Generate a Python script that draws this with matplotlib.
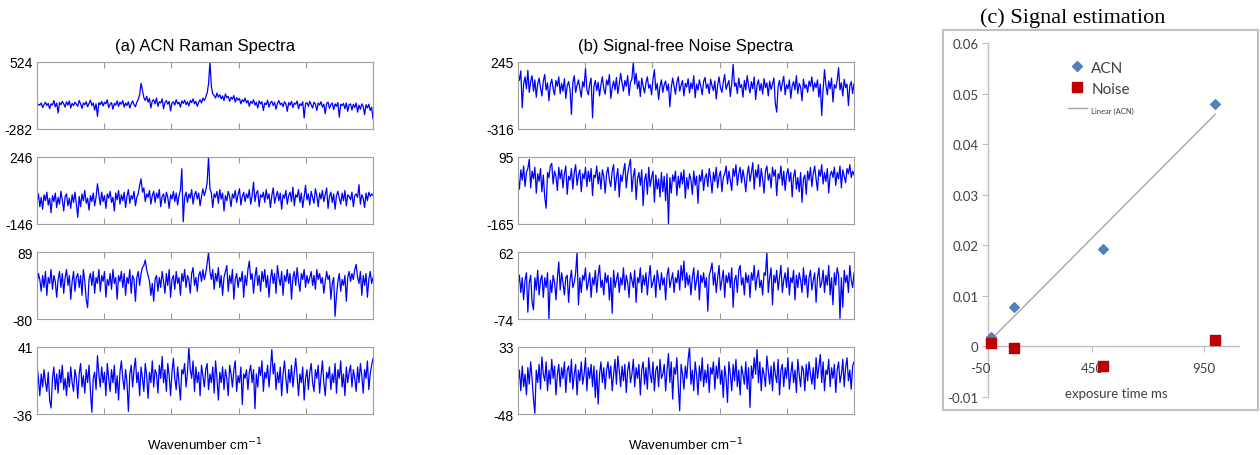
import numpy as np
import matplotlib
matplotlib.use('Agg')
import matplotlib.pyplot as plt
from matplotlib.patches import Rectangle
from matplotlib.lines import Line2D

# ---- (a) ACN Raman spectra ----
a1 = [-10, 15, 5, 30, -25, 10, 40, 0, 25, -40, 20, 5, 60, -15, 30,
      -90, 35, 10, 50, 20, -20, 45, 5, 55, -30, 25, 0, 40, 15, -10,
      60, 20, -35, 30, 10, 45, -15, 25, 65, 0, 30, -55, 20, -130, 35,
      10, 50, -5, 40, 20, 70, -25, 15, 35, -45, 25, 5, 55, -10, 40,
      15, 60, -20, 30, 0, 45, -30, 20, 55, 10, -15, 40, 75, 130, 268,
      180, 95, 60, 110, 40, 85, -30, 55, 70, 20, 90, -10, 45, 30, 80,
      -40, 35, 60, 15, 50, -65, 30, 45, 5, 70, 20, 40, -20, 55, 25,
      65, 10, 45, -5, 60, 35, 80, 20, 50, -10, 40, 70, 30, 90, 60,
      100, 150, 260, 524, 230, 140, 120, 90, 150, 100, 130, 80, 115, 60, 140,
      95, 110, 50, 100, 75, 120, 40, 95, 65, 85, 20, 70, 45, 90, 30,
      60, -10, 50, 25, 70, 5, 40, -30, 55, 20, 45, -60, 30, 10, 65,
      -20, 35, 50, 0, 40, -45, 25, 60, 10, 30, -15, 45, 20, -70, 35,
      5, 50, -25, 30, 15, 55, -40, 20, 0, 45, -150, 25, 35, -10, 50,
      10, -30, 40, 20, -60, 30, 5, 45, -20, 15, -100, 25, 40, -35, 10,
      30, -50, 20, -10, 35, -140, 15, 0, 25, -40, 30, -70, 10, 20, -55,
      15, -25, 30, -80, 5, -45, 20, -10, -110, 10, -30, 15, -60, -20, -160]
a2 = [-20, 30, -45, 10, -60, 25, -10, 40, -35, 5, -80, 20, -15, 35, -50,
      10, -30, 45, -5, -70, 15, 30, -40, 5, -55, 25, -20, 40, -30, -107,
      15, -45, 30, -10, 50, -25, 5, -65, 20, -15, 35, -40, 10, 89, 25,
      -35, 40, -15, 20, -55, 30, 5, 45, -20, 10, -70, 35, -5, 50, -30,
      25, -10, 40, -50, 15, 55, -25, 20, 0, 45, -40, 10, 30, 80, 118,
      40, 65, -15, 30, 10, 50, -30, 20, 45, -20, 35, 5, 55, -45, 15,
      30, -25, 40, 10, -55, 25, 0, 45, -15, 35, -35, 20, 50, 177, -133,
      10, 40, -20, 30, 5, 55, -30, 25, 45, 0, 35, -40, 15, 60, 20,
      50, 95, 246, 60, 35, -50, 30, 10, 45, -25, 55, 0, 35, -70, 20,
      -10, 45, 15, -45, 30, 5, 50, -20, 25, 60, -35, 15, 40, -15, 30,
      5, 55, -30, 20, 99, -15, 35, 50, -45, 25, 10, 40, -20, 55, 0,
      30, -50, 20, 65, -25, 15, 45, -10, 35, -60, 25, 5, 50, -30, 20,
      40, -15, 70, -40, 25, 10, 55, -20, 35, -50, 15, 80, -5, 30, -35,
      45, 10, -25, 60, 20, -45, 35, 0, 50, -15, 25, 65, -55, 15, 40,
      -20, 30, -60, 20, 45, 5, -30, 35, -10, 50, -40, 25, 15, -5, 40,
      -45, 20, 30, 10, 84, -30, 25, 5, -50, 35, -10, 40, 15, 30, 20]
a3 = [5, 35, 20, -10, 30, 0, 40, -20, 25, 10, 45, -5, 30, 15, -25,
      20, 40, 0, 35, -15, 25, 45, 5, 30, -30, 15, 40, -10, 25, 35,
      0, 30, -20, 45, 15, -30, -51, 20, 35, 5, 40, -15, 25, 10, 45,
      -10, 30, 15, 40, -25, 20, 5, 35, -5, 45, 10, 25, -30, 30, 15,
      40, 0, 35, -20, 25, 10, 45, -15, 30, 20, -35, 25, 40, 5, 35,
      50, 55, 69, 45, 30, 15, -20, 10, -35, 20, 30, -10, 25, 0, 40,
      15, -15, 35, 5, 45, -25, 20, 30, -5, 40, 10, 25, -20, 35, 15,
      45, 0, 30, 20, -15, 35, 50, 5, 25, -10, 30, 40, 15, 45, 20,
      35, 60, 89, 40, 20, 45, -5, 35, 15, 50, 0, 30, -20, 25, 40,
      55, -10, 30, 10, 45, -30, 20, 35, 0, 25, 15, 40, -25, 30, 5,
      45, 66, 20, 35, -15, 25, 50, 5, 30, -10, 40, 15, 45, 0, 30,
      -25, 20, 45, 10, 35, -15, 55, 25, 5, 40, -20, 30, 15, 45, 10,
      35, -30, 25, 40, 5, 50, 15, -10, 35, 20, 45, 0, 30, 10, 25,
      40, 5, 30, -5, 45, 20, 35, 10, 25, -15, 15, 40, 20, 30, -30,
      10, 25, -73, -20, 15, 35, -10, 20, 5, 30, -35, 25, 40, 15, 35,
      20, 45, 58, 25, 10, 40, -20, 30, 5, 35, -25, 20, 40, 10, 25]
a4 = [20, 5, -15, 10, -5, 15, 0, -10, 12, -20, -29, 5, 18, -8, 10,
      -12, 15, 0, 20, -8, 5, -15, 12, -5, 18, 0, -10, 15, 5, -18,
      10, 22, -5, 8, -12, 15, 0, 20, -10, -34, 5, 12, -8, 31, 10,
      -5, 18, 0, 12, -15, 22, 5, -10, 15, 0, 20, -12, 8, -20, 12,
      25, 5, -8, 15, 0, -33, 10, 20, -5, 15, 28, 0, 12, -15, 18,
      5, -10, 22, 8, -18, 12, 0, 25, -5, 15, 10, -12, 20, 5, 30,
      0, 15, -10, 22, 8, -15, 12, 28, 5, -8, 18, 0, -20, 15, 10,
      22, -5, 12, 41, 15, 5, 25, -10, 18, 0, 12, -15, 20, 8, -5,
      15, 22, -8, 10, 0, 18, -12, 25, 5, -20, 12, 0, 18, -8, 15,
      5, -15, 20, 10, -5, 15, 25, -10, 8, 0, 18, -25, 10, 5, 15,
      -8, 12, 20, 0, 15, -30, 10, -5, 18, 8, 25, -10, 12, 5, 20,
      -5, 15, 38, 10, 22, -8, 12, 0, 18, -15, 10, 25, 5, -12, 15,
      0, 20, -5, 12, 28, 8, -15, 10, 0, 18, -20, 5, 15, -8, 12,
      22, 0, -10, 15, 5, 20, -12, 8, 25, 0, -15, 12, 5, 18, -8,
      10, 0, 22, -12, 15, 5, 25, -5, 10, -15, 18, 0, 12, 20, -5,
      15, 5, -10, 18, 0, 22, 8, -12, 15, 5, 25, -8, 10, 20, 28]

# ---- (b) signal-free noise spectra ----
b1 = [150, 90, 170, -139, 60, 120, 20, 175, -10, 80, 130, 0, 95, -50, 60,
      110, 30, -40, 85, 140, 10, 70, -80, 55, 100, 20, -30, 90, 40, 120,
      -20, 65, 0, 105, -60, 45, 80, 15, -195, 70, 130, -10, 50, 95, 25,
      -50, 80, 35, 189, 10, -30, 60, 110, -223, 40, 90, 5, 75, -40, 55,
      120, 20, -25, 95, 50, 140, -60, 30, 85, 10, 115, -20, 60, 150, 70,
      0, 90, 40, 130, -35, 75, 100, 245, 60, 150, 20, 85, -45, 110, 40,
      -15, 70, 120, 25, 55, -30, 100, 180, 10, 65, -70, 40, 95, -10, 55,
      85, 5, 60, -130, 30, 110, 45, -25, 75, 120, 0, 50, 90, -40, 65,
      35, 105, -15, 70, 20, 130, -55, 60, 10, 95, 40, -30, 80, 115, 25,
      60, -20, 100, 45, 5, 85, -65, 50, 120, 30, -10, 75, 140, 15, 55,
      90, -45, 65, 225, 40, 70, -20, 110, 30, 55, -50, 90, 10, 130, 45,
      -15, 80, 20, 120, -70, 50, 95, 5, 65, -25, 105, 30, 70, -40, 85,
      15, 60, 110, -100, -175, 40, 90, 0, 70, 125, -30, 55, 20, 95, -60,
      45, 80, 10, 130, -20, 65, 35, -80, 100, 25, 55, -10, 85, 40, 120,
      0, 70, 30, 95, -50, 60, -203, 15, 180, 50, -30, 85, 20, 110, -90,
      55, 25, 90, 197, 10, 70, -40, 100, 30, 60, -120, 45, 80, -20, 65]
b2 = [20, -30, 45, 5, 60, -20, 35, 50, 86, -25, 40, 10, 55, -45, 30,
      0, 50, -40, 25, -60, -104, 35, 15, 60, 70, -10, 40, 20, -35, 55,
      10, 45, -25, 30, 60, -50, 20, 5, 50, -30, 35, 65, -15, 25, 45,
      -40, 30, 10, 55, -20, 40, 0, 50, -55, 25, 15, 60, -10, 35, -30,
      45, 20, -45, 30, 55, 5, -20, 40, 65, -35, 15, 50, -60, 25, 0,
      40, 70, -25, 30, 60, 86, -40, 20, 50, -70, 10, 35, -15, 45, -94,
      5, 30, -50, 55, -20, 15, 40, -80, 25, -30, 10, -60, 35, -40, 20,
      -75, 30, -165, 15, -45, 25, 0, 40, -55, 20, -25, 35, -10, 45, -65,
      15, -30, 30, 5, -50, 40, -15, 20, -85, 25, 0, 45, -35, 15, 30,
      -20, 50, 10, -45, 35, 0, 55, -25, 20, 40, -40, 15, 30, 60, -10,
      40, 5, -35, 50, 20, 65, -15, 30, 55, -5, 45, 10, -40, 25, 60,
      0, 35, 73, -30, 45, 15, 65, -20, 50, 10, -45, 40, 60, 5, 30,
      -25, 55, 20, 45, -55, 30, 10, 60, -15, 40, -35, 25, 50, 0, 35,
      -60, 20, 45, -30, 15, -40, 35, -81, 10, 25, -50, 40, 5, 55, -20,
      30, 60, 10, -35, 45, 20, 65, -10, 35, 0, 50, -45, 25, 40, 15,
      55, -15, 35, 10, 60, -25, 45, 20, -5, 50, 30, 65, 15, 40, 25]
b3 = [-5, 15, -20, 10, -35, 5, 20, -60, 0, 15, -40, -55, 10, -15, 25,
      -25, 5, 15, -30, 10, -10, 20, -74, 5, -20, 15, 0, -35, 10, 42,
      -15, 20, 0, -25, 10, 15, -40, 5, 25, -10, 0, 20, 62, -45, 10,
      -20, 15, 5, 30, -15, 0, 20, -30, 10, -5, 25, -20, 15, 35, -10,
      5, -25, 20, 0, 15, -35, 10, -62, 25, -10, 5, 20, -20, 10, -5,
      30, -15, 15, 0, -30, 20, 5, -10, 25, -40, 10, 0, 30, -20, 15,
      -5, 20, -25, 10, 35, -10, 0, 15, -30, 25, 5, -15, 20, -5, 10,
      -35, 15, 30, -10, 5, 20, -20, 10, 0, 25, -15, 35, 5, 44, -10,
      20, -5, 15, -25, 10, 30, -15, 5, 25, -35, 15, 0, 20, -10, 10,
      -58, 15, 25, 40, -5, 20, -20, 10, 35, -15, 5, 25, -30, 15, 0,
      20, -10, 30, -50, 5, 15, -20, 25, 35, -5, 10, -25, 20, 0, 15,
      -30, 20, 5, 35, -15, 10, 25, -10, 5, -25, 20, 15, 62, -20, 10,
      30, -45, 15, 0, 25, -15, 10, 35, -20, 5, 20, -10, 30, -25, 10,
      0, 25, -35, 15, -10, 20, 5, -20, 30, -5, 15, -30, 10, 25, -15,
      5, 20, -40, 10, 30, -10, 0, 25, -20, 15, -5, 35, -25, 10, -45,
      20, -5, 30, 15, -73, 10, -50, 25, 0, 15, -20, 35, 5, -10, 20]
b4 = [-10, 5, -20, 10, -15, 0, -25, 8, -12, 15, -5, -30, -47, 5, -10,
      12, -18, 21, 0, -8, 15, -20, 5, -12, 18, -5, 10, -25, 0, 12,
      -15, 8, -5, 15, -22, 5, 10, -10, 18, -18, 0, 12, -25, 5, -8,
      15, -12, 0, 20, -20, 8, -5, 12, -15, 10, -28, 5, -36, 0, 15,
      -10, 8, -18, 5, 15, -5, 10, -20, 0, 18, -12, 22, 5, -15, 10,
      -8, 12, -22, 5, 15, -10, 0, 18, -15, 8, -5, 12, -25, 5, 15,
      -12, 8, -18, 20, 0, -10, 15, -20, 5, 10, -15, 18, -5, 0, 12,
      -20, 5, 25, -10, 15, -30, 8, 0, 20, -15, -44, 12, 0, -18, 10,
      -5, 18, 33, -12, 5, -20, 15, 0, -25, 10, -8, 20, -15, 5, -10,
      12, -22, 8, 0, 15, -18, 10, -5, 20, -12, 5, -28, 10, -5, -34,
      15, 0, -20, 12, -8, 18, -15, 5, -25, 10, 0, -12, 15, -18, 8,
      -40, 10, -5, 20, 0, 30, -10, 15, -20, 8, 0, -15, 22, 5, -12,
      10, -20, 15, 0, -10, 18, -25, 5, 12, -15, 8, -5, 20, -18, 0,
      15, -10, 5, -22, 18, 0, -15, 10, 5, -20, 12, -8, 15, 0, -12,
      8, -18, 20, -5, 10, 24, -10, 15, -20, 5, 0, 18, -15, 8, -5,
      12, -22, 5, 15, -10, 0, 18, -15, 8, 20, -8, 5, -18, 10, 15]

lims_a = [(-282, 524), (-146, 246), (-80, 89), (-36, 41)]
lims_b = [(-316, 245), (-165, 95), (-74, 62), (-48, 33)]

# ---- (c) signal estimation ----
exposure = [0, 100, 500, 1000]
acn = [0.0018, 0.0078, 0.0193, 0.0479]
noise = [0.0007, -0.0004, -0.0039, 0.0012]

fig = plt.figure(figsize=(12.6, 4.56), dpi=100)
sans = 'Liberation Sans'

bottoms = [0.715, 0.5066, 0.298, 0.0899]
row_h = 0.147
panel_w = 0.2667


def spec_panel(left, series, lims):
    for k, (y, (lo, hi)) in enumerate(zip(series, lims)):
        ax = fig.add_axes([left, bottoms[k], panel_w, row_h])
        x = np.arange(len(y))
        ax.plot(x, y, color='#0000ff', lw=0.9)
        ax.set_xlim(0, len(y) - 1)
        ax.set_ylim(lo, hi)
        ax.set_yticks([lo, hi])
        ax.set_yticklabels([str(lo), str(hi)], fontfamily=sans, fontsize=10)
        ax.set_xticks(np.linspace(0, len(y) - 1, 6)[1:-1])
        ax.tick_params(axis='x', direction='in', top=True, length=4,
                       color='#999999', labelbottom=False)
        ax.tick_params(axis='y', length=0, pad=3)
        for s in ax.spines.values():
            s.set_color('#a0a0a0')
            s.set_linewidth(0.8)


spec_panel(37 / 1260, [a1, a2, a3, a4], lims_a)
spec_panel(518 / 1260, [b1, b2, b3, b4], lims_b)

fig.text(205 / 1260, 1 - 46 / 456, '(a) ACN Raman Spectra', ha='center',
         va='center', fontsize=12, family=sans)
fig.text(686 / 1260, 1 - 46 / 456, '(b) Signal-free Noise Spectra', ha='center',
         va='center', fontsize=12, family=sans)
fig.text(205 / 1260, 1 - 445 / 456, 'Wavenumber cm$^{-1}$', ha='center',
         va='center', fontsize=9.5, family=sans)
fig.text(686 / 1260, 1 - 445 / 456, 'Wavenumber cm$^{-1}$', ha='center',
         va='center', fontsize=9.5, family=sans)

# panel (c)
fig.add_artist(Rectangle((943 / 1260, 1 - 411 / 456), 315 / 1260, 380 / 456,
                         transform=fig.transFigure, fill=False,
                         ec='#c0c0c0', lw=1.5))
fig.text(1073 / 1260, 1 - 18 / 456, '(c) Signal estimation', ha='center',
         va='center', fontsize=16, family='Liberation Serif')

calibri = 'Lato'
gray = '#bfbfbf'
axc = fig.add_axes([988 / 1260, 1 - 398 / 456, 251 / 1260, 354 / 456])
axc.set_xlim(-14, 1106)
axc.set_ylim(-0.01, 0.06)
axc.spines['top'].set_visible(False)
axc.spines['right'].set_visible(False)
axc.spines['bottom'].set_position(('data', 0))
for s in ['left', 'bottom']:
    axc.spines[s].set_color(gray)
    axc.spines[s].set_linewidth(1)

yt = np.round(np.arange(-0.01, 0.0601, 0.01), 2)
axc.set_yticks(yt)
axc.set_yticklabels(['0' if v == 0 else f'{v:g}' for v in yt],
                    fontfamily=calibri, fontsize=9.5, color='#404040')
axc.set_xticks([450, 950])
axc.set_xticklabels(['450', '950'], fontfamily=calibri, fontsize=9.5,
                    color='#404040')
axc.tick_params(axis='y', direction='out', length=4, color=gray, pad=3)
axc.tick_params(axis='x', direction='out', length=4, color=gray, pad=7)
axc.text(-50, -0.0042, '-50', ha='center', va='center', fontsize=9.5,
         family=calibri, color='#404040', clip_on=False)

fit = np.polyfit(exposure, acn, 1)
xs = np.array([exposure[0], exposure[-1]])
axc.plot(xs, np.polyval(fit, xs), color='#a6a6a6', lw=1)
axc.scatter(exposure, acn, marker='D', s=24, color='#4f81bd', zorder=3,
            clip_on=False)
axc.scatter(exposure, noise, marker='s', s=42, color='#c00000', zorder=3,
            clip_on=False)

handles = [Line2D([], [], marker='D', ls='none', color='#4f81bd', ms=5),
           Line2D([], [], marker='s', ls='none', color='#c00000', ms=6.5),
           Line2D([], [], color='#a6a6a6', lw=1)]
leg = axc.legend(handles, ['ACN', 'Noise', 'Linear (ACN)'], loc='upper left',
                 bbox_to_anchor=(0.32, 0.95), frameon=False, borderpad=0,
                 borderaxespad=0, handlelength=1.2, handletextpad=0.3,
                 labelspacing=0.45, prop={'family': calibri, 'size': 11})
for t in leg.get_texts():
    t.set_color('#404040')
leg.get_texts()[2].set_fontsize(5.5)

fig.text(1116 / 1260, 1 - 394 / 456, 'exposure time ms', ha='center',
         va='center', fontsize=9.5, family=calibri, color='#404040')

fig.savefig('out.png', dpi=100)
